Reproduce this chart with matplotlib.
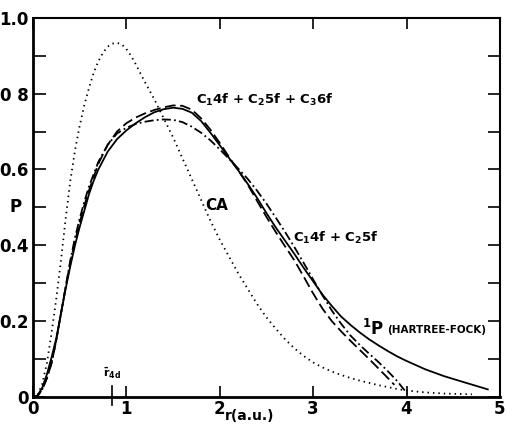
import matplotlib
matplotlib.use("Agg")
from matplotlib import pyplot as plt

plt.rcParams['font.family'] = ['DejaVu Sans']
plt.rcParams['mathtext.fontset'] = 'custom'
plt.rcParams['mathtext.rm'] = 'DejaVu Sans:bold'
plt.rcParams['mathtext.it'] = 'DejaVu Sans:bold'
plt.rcParams['mathtext.bf'] = 'DejaVu Sans:bold'

# 1P Hartree-Fock (solid)
r_hf = [0, 0.05, 0.1, 0.15, 0.2, 0.25, 0.3, 0.35, 0.4, 0.45, 0.5, 0.56, 0.6, 0.65,
        0.7, 0.8, 0.9, 1.0, 1.1, 1.2, 1.3, 1.4, 1.5, 1.6, 1.7, 1.8, 1.9, 2.0, 2.1,
        2.2, 2.3, 2.4, 2.5, 2.6, 2.7, 2.8, 2.9, 3.0, 3.1, 3.2, 3.3, 3.4, 3.5, 3.6,
        3.7, 3.8, 3.9, 4.0, 4.2, 4.4, 4.6, 4.87]
p_hf = [0, 0.004, 0.025, 0.06, 0.105, 0.155, 0.22, 0.285, 0.345, 0.4, 0.448, 0.5,
        0.535, 0.57, 0.6, 0.647, 0.68, 0.703, 0.722, 0.738, 0.751, 0.759, 0.763,
        0.76, 0.75, 0.728, 0.697, 0.664, 0.63, 0.597, 0.562, 0.525, 0.485, 0.447,
        0.412, 0.377, 0.34, 0.305, 0.27, 0.24, 0.212, 0.19, 0.17, 0.152, 0.136,
        0.121, 0.107, 0.095, 0.073, 0.055, 0.04, 0.02]

# CA (dotted)
r_ca = [0, 0.05, 0.1, 0.15, 0.2, 0.25, 0.3, 0.35, 0.4, 0.45, 0.5, 0.55, 0.6, 0.65,
        0.7, 0.75, 0.8, 0.85, 0.9, 0.95, 1.0, 1.05, 1.1, 1.2, 1.3, 1.4, 1.5, 1.6,
        1.7, 1.8, 1.9, 2.0, 2.1, 2.2, 2.3, 2.4, 2.5, 2.6, 2.7, 2.8, 2.9, 3.0, 3.1,
        3.2, 3.3, 3.4, 3.5, 3.6, 3.7, 3.8, 3.9, 4.0, 4.2, 4.4, 4.7]
p_ca = [0, 0.005, 0.035, 0.09, 0.17, 0.26, 0.36, 0.47, 0.57, 0.65, 0.715, 0.77,
        0.815, 0.855, 0.885, 0.908, 0.924, 0.932, 0.934, 0.93, 0.918, 0.9, 0.878,
        0.83, 0.785, 0.735, 0.685, 0.63, 0.575, 0.52, 0.465, 0.415, 0.37, 0.325,
        0.285, 0.245, 0.21, 0.18, 0.152, 0.128, 0.108, 0.091, 0.078, 0.067, 0.058,
        0.05, 0.043, 0.037, 0.031, 0.026, 0.021, 0.017, 0.012, 0.009, 0.007]

# C1 4f + C2 5f + C3 6f (dashed)
r_c3 = [0, 0.05, 0.1, 0.15, 0.2, 0.25, 0.3, 0.35, 0.4, 0.45, 0.5, 0.55, 0.6, 0.7,
        0.8, 0.9, 1.0, 1.1, 1.2, 1.3, 1.4, 1.5, 1.6, 1.7, 1.8, 1.9, 2.0, 2.1, 2.2,
        2.3, 2.4, 2.5, 2.6, 2.7, 2.8, 2.9, 3.0, 3.1, 3.2, 3.3, 3.4, 3.5, 3.6, 3.7,
        3.8, 3.87]
p_c3 = [0, 0.003, 0.02, 0.05, 0.09, 0.15, 0.22, 0.29, 0.355, 0.41, 0.46, 0.505,
        0.545, 0.615, 0.665, 0.7, 0.722, 0.737, 0.748, 0.757, 0.764, 0.769, 0.768,
        0.758, 0.735, 0.705, 0.67, 0.633, 0.597, 0.56, 0.517, 0.475, 0.435, 0.397,
        0.36, 0.317, 0.273, 0.233, 0.2, 0.173, 0.148, 0.124, 0.1, 0.075, 0.05, 0.032]

# C1 4f + C2 5f (dash-dot)
r_c2 = [0, 0.05, 0.1, 0.15, 0.2, 0.25, 0.3, 0.35, 0.4, 0.45, 0.5, 0.55, 0.6, 0.7,
        0.8, 0.9, 1.0, 1.1, 1.2, 1.3, 1.4, 1.5, 1.6, 1.7, 1.8, 1.9, 2.0, 2.1, 2.2,
        2.3, 2.4, 2.5, 2.6, 2.7, 2.8, 2.9, 3.0, 3.1, 3.2, 3.3, 3.4, 3.5, 3.6, 3.7,
        3.8, 3.9, 4.01]
p_c2 = [0, 0.003, 0.02, 0.05, 0.09, 0.15, 0.22, 0.29, 0.36, 0.42, 0.47, 0.515,
        0.555, 0.62, 0.665, 0.695, 0.71, 0.72, 0.726, 0.73, 0.732, 0.731, 0.725,
        0.713, 0.697, 0.677, 0.653, 0.628, 0.602, 0.575, 0.544, 0.51, 0.473, 0.435,
        0.395, 0.353, 0.31, 0.268, 0.228, 0.193, 0.162, 0.137, 0.114, 0.092, 0.068,
        0.042, 0.008]

r_4d = 0.845

yticks = [0, 0.2, 0.4, 0.6, 0.8, 1.0]
ylabels = ['0', '0.2', '0.4', '0.6', '0 8', '1.0']
xticks = [0, 1, 2, 3, 4, 5]

fig = plt.figure(figsize=(5.07, 4.25), dpi=100)
ax = fig.add_axes([0.065, 0.066, 0.921, 0.892])

ax.plot(r_hf, p_hf, color='black', lw=1.3, linestyle='-')
ax.plot(r_ca, p_ca, color='black', lw=1.3, linestyle=(0, (0.8, 2.2)))
ax.plot(r_c3, p_c3, color='black', lw=1.3, linestyle=(0, (6, 2.5)))
ax.plot(r_c2, p_c2, color='black', lw=1.3, linestyle=(0, (5, 1.8, 1, 1.8)))

ax.set_xlim(0, 5)
ax.set_ylim(0, 1.0)

ax.set_yticks(yticks)
ax.set_yticklabels(ylabels, fontsize=12, fontweight='bold')
ax.set_yticks([0.1, 0.3, 0.5, 0.7, 0.9], minor=True)
ax.set_xticks(xticks)
ax.set_xticklabels([str(x) for x in xticks], fontsize=12, fontweight='bold')
ax.tick_params(axis='both', which='both', direction='in', length=8, width=1.2,
               top=True, right=True, pad=2)
ax.tick_params(axis='y', which='both', direction='in', length=9, pad=3)

for s in ax.spines.values():
    s.set_linewidth(1.5)
ax.spines['left'].set_linewidth(2)
ax.spines['bottom'].set_linewidth(2)

# r4d marker
ax.plot([r_4d, r_4d], [-0.02, 0.03], color='black', lw=1.2, clip_on=False)
ax.text(r_4d, 0.042, r'$\bar{\mathrm{r}}_{4d}$', fontsize=8, ha='center', va='bottom')

ax.text(-0.19, 0.5, 'P', fontsize=12, fontweight='bold', ha='center', va='center',
        clip_on=False)
ax.text(2.32, -0.06, 'r(a.u.)', fontsize=10, fontweight='bold', ha='center',
        va='baseline', clip_on=False)

ax.text(1.745, 0.784, r'C$_1$4f + C$_2$5f + C$_3$6f', fontsize=9.5,
        fontweight='bold', ha='left', va='center')
ax.text(2.78, 0.42, r'C$_1$4f + C$_2$5f', fontsize=9.5, fontweight='bold',
        ha='left', va='center')
ax.text(1.84, 0.505, 'CA', fontsize=11, fontweight='bold', ha='left', va='center')
ax.text(3.52, 0.18, r'$^1$P', fontsize=12, fontweight='bold', ha='left',
        va='center')
ax.text(3.79, 0.177, '(HARTREE-FOCK)', fontsize=7.5, fontweight='bold',
        ha='left', va='center')

fig.savefig('out.png', dpi=100)
